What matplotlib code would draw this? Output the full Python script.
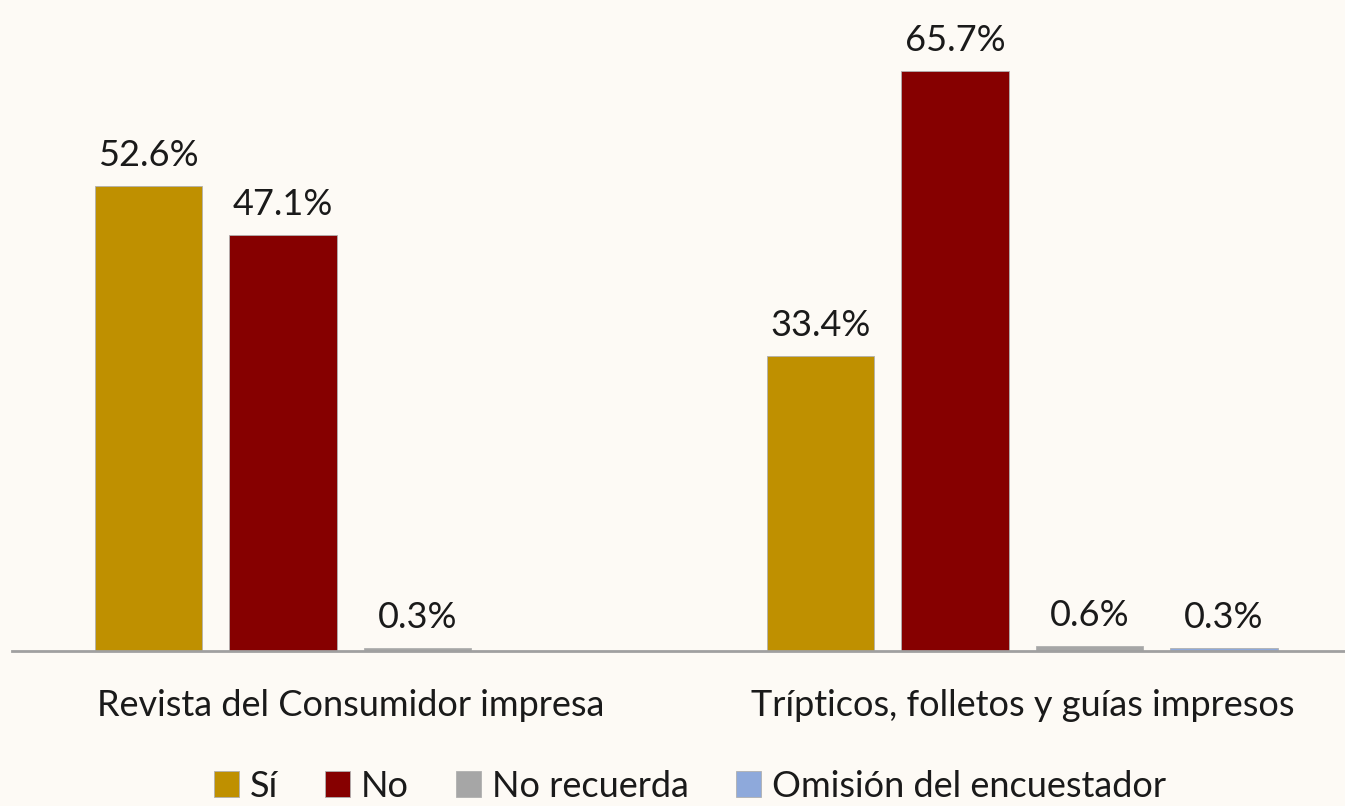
import numpy as np
import matplotlib.pyplot as plt

plt.rcParams['font.family'] = ['Lato', 'DejaVu Sans']

categorias = ['Revista del Consumidor impresa', 'Trípticos, folletos y guías impresos']
series = ['Sí', 'No', 'No recuerda', 'Omisión del encuestador']
si = [52.6, 33.4]
no = [47.1, 65.7]
no_recuerda = [0.3, 0.6]
omision = [np.nan, 0.3]
colores = ['#BF9000', '#860000', '#A6A6A6', '#8EA9DB']

valores = [si, no, no_recuerda, omision]

fig = plt.figure(figsize=(13.45, 8.06), dpi=100)
fig.patch.set_facecolor('#FDFAF5')
ax = fig.add_axes([0, 0.1923, 1, 0.8077])
ax.set_facecolor('none')

x = np.arange(len(categorias))
ancho = 0.16
offsets = [-0.3, -0.1, 0.1, 0.3]
for vals, nombre, col, off in zip(valores, series, colores, offsets):
    bars = ax.bar(x + off, vals, ancho, color=col, edgecolor='#B0B0B0', linewidth=0.6, label=nombre)
    for b, v in zip(bars, vals):
        if np.isnan(v):
            continue
        ax.annotate('{:.1f}%'.format(v), (b.get_x() + b.get_width() / 2, v),
                    xytext=(0, 10), textcoords='offset points',
                    ha='center', va='bottom', fontsize=26, color='#1a1a1a')

ax.set_xlim(-0.521, 1.48)
ax.set_ylim(0, 73.7)
ax.set_xticks(x)
ax.set_xticklabels(categorias, fontsize=26, color='#1a1a1a')
ax.tick_params(axis='x', length=0, pad=27)
ax.set_yticks([])
for s in ['top', 'right', 'left']:
    ax.spines[s].set_visible(False)
ax.spines['bottom'].set_color('#A0A0A0')
ax.spines['bottom'].set_linewidth(2)
ax.spines['bottom'].set_bounds(-0.503, 1.48)

fig.legend(loc='lower center', bbox_to_anchor=(0.513, -0.036), ncol=4, frameon=False,
           fontsize=26, handlelength=0.7, handleheight=0.7, handletextpad=0.3,
           columnspacing=1.3, labelcolor='#1a1a1a')

fig.savefig('out.png', dpi=100, facecolor=fig.get_facecolor())
